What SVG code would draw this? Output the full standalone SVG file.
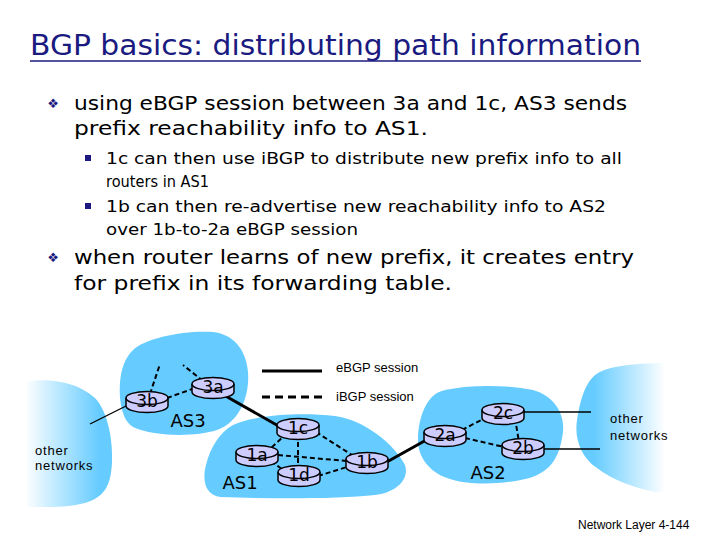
<svg xmlns="http://www.w3.org/2000/svg" xmlns:xlink="http://www.w3.org/1999/xlink" width="720" height="540" viewBox="0 0 720 540">
<style>
.title{font-family:"DejaVu Sans",sans-serif;font-size:28px;fill:#1a1a80}
.b1{font-family:"DejaVu Sans",sans-serif;font-size:20px;fill:#000}
.b2{font-family:"DejaVu Sans",sans-serif;font-size:16.5px;fill:#000}
.bul{font-family:"DejaVu Sans",sans-serif;fill:#1a1a80}
.rl{font-family:"DejaVu Sans",sans-serif;font-size:17px;fill:#000;text-anchor:middle}
.as{font-family:"DejaVu Sans",sans-serif;font-size:18px;fill:#000;text-anchor:middle}
.sm{font-family:"Liberation Sans",Arial,sans-serif;font-size:13px;fill:#000}
.on{font-family:"Liberation Sans",Arial,sans-serif;font-size:13px;fill:#000;letter-spacing:0.8px}
.cloud{fill:#66ccff}
.solid{stroke:#000;stroke-width:3;fill:none}
.thin{stroke:#000;stroke-width:1.3;fill:none}
.dash{stroke:#000;stroke-width:2;stroke-dasharray:5,3;fill:none}
</style>
<defs>
<linearGradient id="gl" x1="0" y1="0" x2="1" y2="0">
<stop offset="0" stop-color="#ffffff"/>
<stop offset="0.85" stop-color="#66ccff"/>
</linearGradient>
<linearGradient id="gr" x1="0" y1="0" x2="1" y2="0">
<stop offset="0.2" stop-color="#66ccff"/>
<stop offset="1" stop-color="#ffffff"/>
</linearGradient>
<g id="router">
<path d="M-21,-3 v8 a21,6.5 0 0 0 42,0 v-8" fill="#ccccff" stroke="#000" stroke-width="1.5"/>
<ellipse cx="0" cy="-3" rx="21" ry="6.5" fill="#ccccff" stroke="#000" stroke-width="1.5"/>
</g>
</defs>
<rect width="720" height="540" fill="#fff"/>

<g id="text">
<text class="title" x="30" y="55" textLength="611" lengthAdjust="spacingAndGlyphs">BGP basics: distributing path information</text>
<line x1="30" y1="61" x2="641" y2="61" stroke="#1a1a80" stroke-width="1.5"/>
<text class="bul" x="53" y="108" font-size="13" text-anchor="middle">❖</text>
<text class="b1" x="74" y="110" textLength="553" lengthAdjust="spacingAndGlyphs">using eBGP session between 3a and 1c, AS3 sends</text>
<text class="b1" x="74" y="135" textLength="354" lengthAdjust="spacingAndGlyphs">prefix reachability info to AS1.</text>
<rect x="85" y="155" width="6" height="6" fill="#1a1a80"/>
<text class="b2" x="106" y="164" textLength="516" lengthAdjust="spacingAndGlyphs">1c can then use iBGP to distribute new prefix info to all</text>
<text class="b2" x="106" y="187" textLength="103" lengthAdjust="spacingAndGlyphs">routers in AS1</text>
<rect x="85" y="203" width="6" height="6" fill="#1a1a80"/>
<text class="b2" x="106" y="212" textLength="500" lengthAdjust="spacingAndGlyphs">1b can then re-advertise new reachability info to AS2</text>
<text class="b2" x="106" y="235" textLength="252" lengthAdjust="spacingAndGlyphs">over 1b-to-2a eBGP session</text>
<text class="bul" x="53" y="262" font-size="13" text-anchor="middle">❖</text>
<text class="b1" x="74" y="264" textLength="560" lengthAdjust="spacingAndGlyphs">when router learns of new prefix, it creates entry</text>
<text class="b1" x="74" y="290" textLength="378" lengthAdjust="spacingAndGlyphs">for prefix in its forwarding table.</text>
</g>

<g id="clouds">
<path id="cloud-other-left" fill="url(#gl)" d="M25,382 C45,378 75,380 95,398 C108,412 113,440 112,462 C111,485 105,497 85,503 C65,508 45,507 25,507 Z"/>
<path id="cloud-as3" class="cloud" d="M133,350 C145,338 185,330 213,332 C232,334 246,348 248,372 C250,395 240,422 217,430 C195,437 155,437 133,427 C118,418 118,385 122,370 C125,360 128,355 133,350 Z"/>
<path id="cloud-as1" class="cloud" d="M233,425 C255,415 300,412 335,416 C365,420 395,445 405,465 C410,480 395,493 375,495 C340,499 270,499 220,497 C205,495 202,480 206,465 C210,448 220,432 233,425 Z"/>
<path id="cloud-as2" class="cloud" d="M437,393 C450,386 500,383 533,390 C555,396 565,415 563,432 C560,455 553,468 535,476 C515,484 470,487 447,478 C430,472 418,458 418,440 C418,420 425,400 437,393 Z"/>
<path id="cloud-other-right" fill="url(#gr)" d="M593,377 C603,367 625,364 660,363 L665,363 L665,492 L655,492 C635,488 612,480 597,468 C582,458 574,440 577,420 C580,400 585,385 593,377 Z"/>
</g>

<g id="connectors">
<line class="solid" x1="222" y1="394" x2="282" y2="428"/>
<line class="solid" x1="385" y1="463" x2="428" y2="439"/>
<line class="thin" x1="90" y1="424" x2="130" y2="404" stroke-width="2"/>
<line class="dash" x1="150" y1="394" x2="160" y2="364"/>
<line class="dash" x1="203" y1="381" x2="183" y2="365"/>
<line class="dash" x1="167" y1="398" x2="195" y2="388"/>
<line class="dash" x1="287" y1="433" x2="270" y2="449"/>
<line class="dash" x1="298" y1="434" x2="298" y2="469"/>
<line class="dash" x1="316" y1="432" x2="352" y2="455"/>
<line class="dash" x1="278" y1="455" x2="347" y2="461"/>
<line class="dash" x1="271" y1="461" x2="283" y2="470"/>
<line class="dash" x1="318" y1="476" x2="350" y2="466"/>
<line class="dash" x1="462" y1="430" x2="485" y2="418"/>
<line class="dash" x1="465" y1="438" x2="504" y2="447"/>
<line class="dash" x1="515" y1="418" x2="519" y2="442"/>
<line class="thin" x1="523" y1="412" x2="591" y2="412"/>
<line class="thin" x1="543" y1="449" x2="600" y2="449"/>
</g>

<g id="legend">
<line class="solid" x1="262" y1="371" x2="322" y2="371"/>
<line class="solid" x1="262" y1="397" x2="324" y2="397" stroke-dasharray="8,5"/>
<text class="sm" x="336" y="372">eBGP session</text>
<text class="sm" x="336" y="401">iBGP session</text>
</g>

<g id="node-3b"><use xlink:href="#router" x="147" y="401"/><text class="rl" x="147" y="407">3b</text></g>
<g id="node-3a"><use xlink:href="#router" x="213" y="387"/><text class="rl" x="213" y="393">3a</text></g>
<g id="node-1c"><use xlink:href="#router" x="298" y="428"/><text class="rl" x="298" y="434">1c</text></g>
<g id="node-1a"><use xlink:href="#router" x="257" y="455"/><text class="rl" x="257" y="461">1a</text></g>
<g id="node-1d"><use xlink:href="#router" x="299" y="475"/><text class="rl" x="299" y="481">1d</text></g>
<g id="node-1b"><use xlink:href="#router" x="367" y="462"/><text class="rl" x="367" y="468">1b</text></g>
<g id="node-2c"><use xlink:href="#router" x="503" y="413"/><text class="rl" x="503" y="419">2c</text></g>
<g id="node-2a"><use xlink:href="#router" x="445" y="435"/><text class="rl" x="445" y="441">2a</text></g>
<g id="node-2b"><use xlink:href="#router" x="523" y="448"/><text class="rl" x="523" y="454">2b</text></g>

<g id="labels">
<text class="as" x="188" y="427">AS3</text>
<text class="as" x="240" y="489">AS1</text>
<text class="as" x="488" y="479">AS2</text>
<text class="on" x="35" y="455">other</text>
<text class="on" x="35" y="470">networks</text>
<text class="on" x="610" y="423">other</text>
<text class="on" x="610" y="440">networks</text>
<text font-family="Liberation Sans, Arial, sans-serif" font-size="12" x="578" y="529">Network Layer 4-144</text>
</g>
</svg>
